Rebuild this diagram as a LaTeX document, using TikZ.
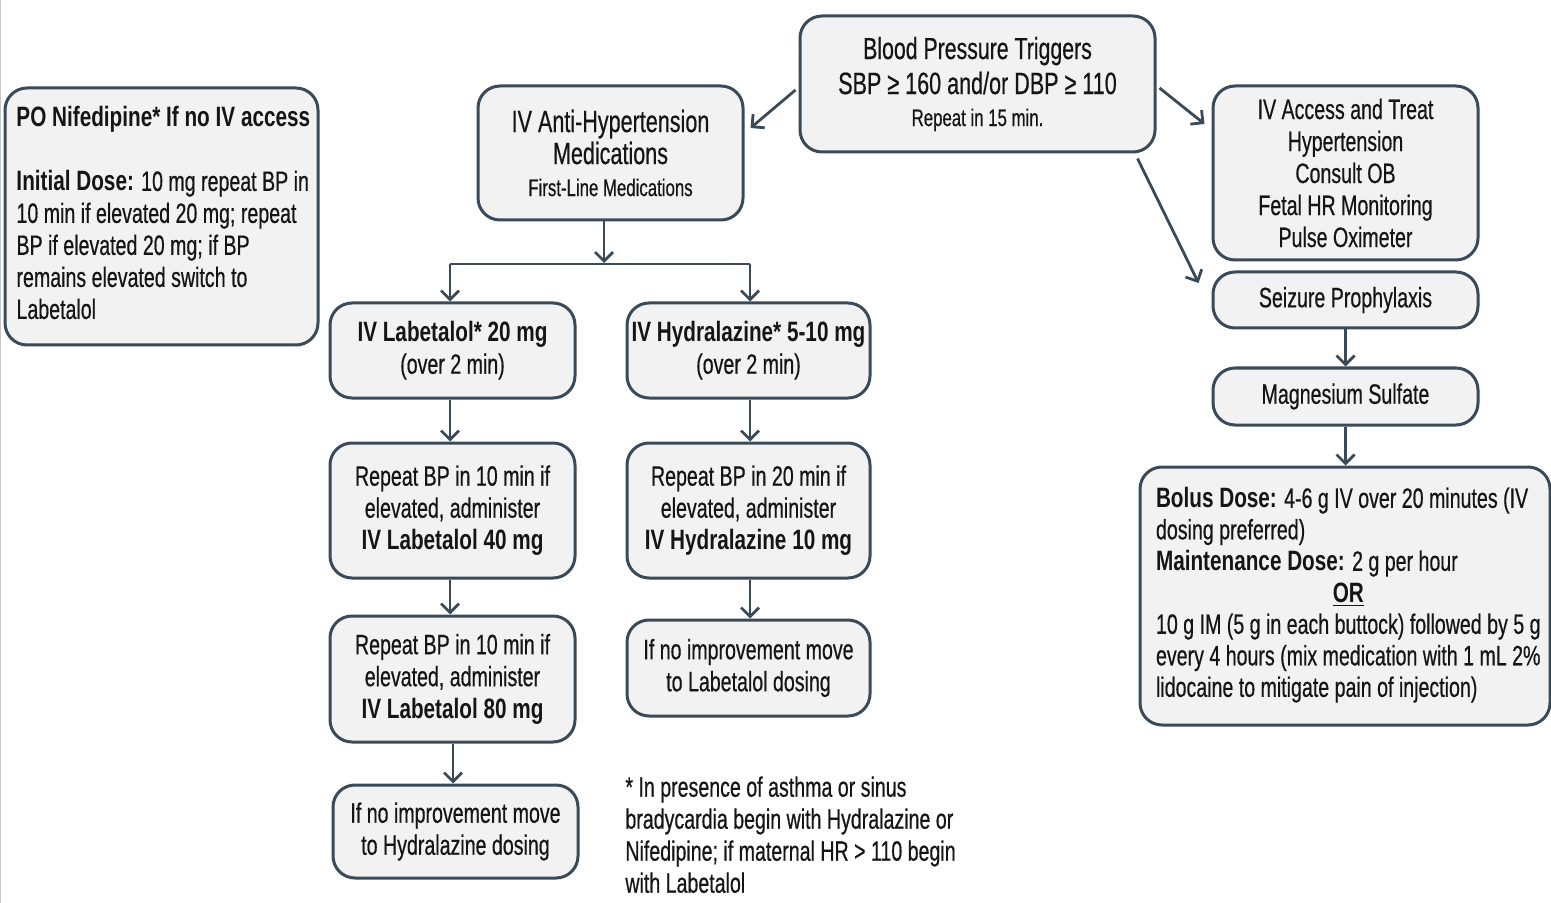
\documentclass[tikz,border=0pt]{standalone}
\usepackage{fontspec}
\setmainfont[FakeStretch=0.70, UprightFeatures={FakeBold=0.5}, BoldFeatures={FakeStretch=0.74}]{Liberation Sans}
\usetikzlibrary{arrows.meta,calc}
\definecolor{edge}{HTML}{3B4A58}
\definecolor{boxfill}{HTML}{F2F2F2}
\definecolor{ink}{HTML}{151515}
\newcommand{\mtxt}{\fontsize{14}{16}\selectfont}
\newcommand{\ltab}[2]{\makebox[#1][l]{\begin{tabular}{@{}l@{}}#2\end{tabular}}}
\tikzset{
  box/.style={draw=edge, line width=1.5pt, fill=boxfill, rounded corners=11pt, text=ink, align=center, inner sep=2pt, font=\mtxt},
  arr/.style={draw=edge, line width=1.4pt, -{Straight Barb[length=4.5pt,width=9pt,line width=1.4pt]}},
  ln/.style={draw=edge, line width=1.4pt},
}
\begin{document}
\begin{tikzpicture}[x=0.5pt,y=-0.5pt]
\useasboundingbox (0,0) rectangle (1551,903);
\fill[white] (0,0) rectangle (1551,903);
\draw[gray!45, line width=0.6pt] (0.5,0) -- (0.5,903);

% left box
\node[box, minimum width=156.5pt, minimum height=128.5pt, inner xsep=5.5pt] (nif) at (161.5,216.5)
 {\ltab{145pt}{\textbf{PO Nifedipine* If no IV access}\\[16pt]
  \textbf{Initial Dose:} 10 mg repeat BP in\\
  10 min if elevated 20 mg; repeat\\
  BP if elevated 20 mg; if BP\\
  remains elevated switch to\\
  Labetalol}};

% top
\node[box, minimum width=177.5pt, minimum height=68pt] (bpt) at (977.5,84)
 {{\fontsize{15.2}{17.5}\selectfont Blood Pressure Triggers}\\[1.5pt]
  {\fontsize{15.4}{17.5}\selectfont SBP ≥ 160 and/or DBP ≥ 110}\\
  {\fontsize{12}{14.5}\selectfont Repeat in 15 min.}};

\node[box, minimum width=132.5pt, minimum height=67pt] (anti) at (610.5,153)
 {{\fontsize{15.4}{17}\selectfont IV Anti-Hypertension}\\
  {\fontsize{15.4}{17}\selectfont Medications}\\
  {\fontsize{12}{15}\selectfont First-Line Medications}};

% right column
\node[box, minimum width=132.5pt, minimum height=87pt] (acc) at (1345.5,173)
 {IV Access and Treat\\Hypertension\\Consult OB\\Fetal HR Monitoring\\Pulse Oximeter};
\node[box, minimum width=132.5pt, minimum height=28pt] (seiz) at (1345.5,300) {Seizure Prophylaxis};
\node[box, minimum width=132.5pt, minimum height=28.5pt] (mag) at (1345.5,396.5) {Magnesium Sulfate};
\node[box, minimum width=205pt, minimum height=129pt, inner xsep=8pt] (bolus) at (1345,596)
 {\fontsize{14}{15.75}\selectfont\ltab{189pt}{\textbf{Bolus Dose:} 4-6 g IV over 20 minutes (IV\\
  dosing preferred)\\
  \textbf{Maintenance Dose:} 2 g per hour\\
  \multicolumn{1}{@{}c@{}}{\underline{\textbf{OR}}}\\
  10 g IM (5 g in each buttock) followed by 5 g\\
  every 4 hours (mix medication with 1 mL 2\%\\
  lidocaine to mitigate pain of injection)}};

% labetalol column
\node[box, minimum width=122.5pt, minimum height=47.5pt] (lab) at (452.5,350.5)
 {\textbf{IV Labetalol* 20 mg}\\(over 2 min)};
\node[box, minimum width=122.5pt, minimum height=67.5pt] (r10) at (452.5,510.5)
 {Repeat BP in 10 min if\\elevated, administer\\\textbf{IV Labetalol 40 mg}};
\node[box, minimum width=122.5pt, minimum height=63pt] (r80) at (452.5,679)
 {Repeat BP in 10 min if\\elevated, administer\\\textbf{IV Labetalol 80 mg}};
\node[box, minimum width=122.5pt, minimum height=46.5pt] (nohyd) at (455.5,831.5)
 {If no improvement move\\to Hydralazine dosing};

% hydralazine column
\node[box, minimum width=121.5pt, minimum height=47.5pt, inner xsep=0pt] (hyd) at (748.5,350.5)
 {\textbf{IV Hydralazine* 5-10 mg}\\(over 2 min)};
\node[box, minimum width=121.5pt, minimum height=67.5pt] (r20) at (748.5,510.5)
 {Repeat BP in 20 min if\\elevated, administer\\\textbf{IV Hydralazine 10 mg}};
\node[box, minimum width=121.5pt, minimum height=48pt] (nolab) at (748.5,668)
 {If no improvement move\\to Labetalol dosing};

% footnote
\node[anchor=north west, align=left, font=\mtxt, text=ink, inner sep=0pt] (foot) at (625,776)
 {* In presence of asthma or sinus\\
  bradycardia begin with Hydralazine or\\
  Nifedipine; if maternal HR > 110 begin\\
  with Labetalol};

% connectors
\draw[arr] ($(bpt.west |- 0,90)+(-3,0)$) -- ($(anti.east |- 0,128)+(6,0)$);
\draw[arr] ($(bpt.east |- 0,88)+(3,0)$) -- ($(acc.west |- 0,124)+(-7,0)$);
\draw[arr] ($(bpt.south)+(160,5)$) -- ($(seiz.west)+(-13,-17)$);

\coordinate (jm) at (604,264);
\coordinate (jl) at (450,264);
\coordinate (jr) at (750,264);
\draw[arr] (anti.south -| jm) -- ($(jm)+(0,-1)$);
\draw[ln] (jl) -- (jr);
\draw[arr] (jl) -- (jl |- lab.north);
\draw[arr] (jr) -- (jr |- hyd.north);

\draw[arr] (lab.south -| jl) -- (r10.north -| jl);
\draw[arr] (r10.south -| jl) -- (r80.north -| jl);
\draw[arr] (r80.south -| 453,0) -- (nohyd.north -| 453,0);
\draw[arr] (hyd.south -| jr) -- (r20.north -| jr);
\draw[arr] (r20.south -| jr) -- (nolab.north -| jr);

\draw[arr] (seiz.south) -- (mag.north);
\draw[arr] (mag.south) -- (bolus.north -| mag.south);
\end{tikzpicture}
\end{document}
